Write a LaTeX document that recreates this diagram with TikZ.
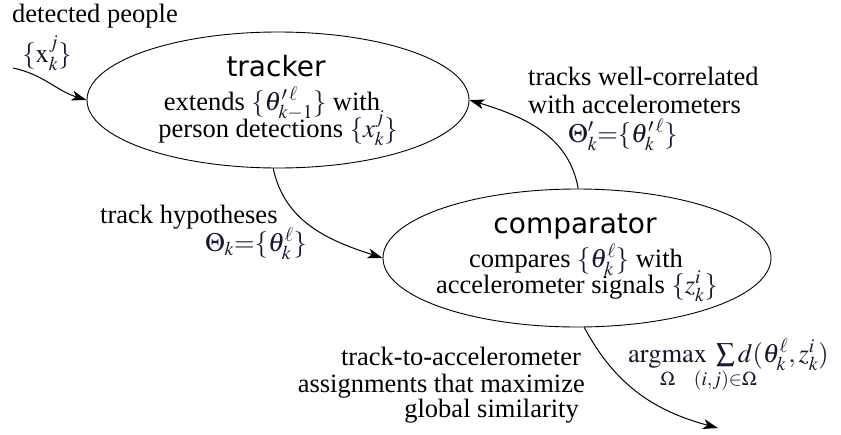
\documentclass[tikz,border=0pt]{standalone}
\usepackage{mathptmx}
\usepackage[no-math]{fontspec}
\setmainfont{Liberation Serif}
\setsansfont{DejaVu Sans}
\usetikzlibrary{shapes.geometric,arrows.meta}
\definecolor{mathc}{RGB}{22,22,48}
\newcommand{\mc}[1]{\textcolor{mathc}{#1}}
\newcommand{\zclap}[1]{\makebox[0pt]{$\scriptstyle #1$}}
\begin{document}
\begin{tikzpicture}[x=1pt,y=1pt,
  ell/.style={draw=black, ellipse, line width=0.9pt, inner sep=0pt},
  txt/.style={inner sep=0pt, font=\fontsize{26.5}{28}\selectfont},
  ttl/.style={inner sep=0pt, font=\sffamily\fontsize{28}{30}\selectfont},
  arr/.style={draw=black, line width=1pt, -{Stealth[length=15pt,width=10pt,inset=4pt]}}]
\useasboundingbox (0,0) rectangle (841,-434);

% ellipses
\node[ell, minimum width=382pt, minimum height=136pt] (tr) at (278,-100) {};
\node[ell, minimum width=388pt, minimum height=138pt] (cmp) at (577,-258) {};

% tracker text
\node[ttl, anchor=base] (trT) at (276,-76) {tracker};
\node[txt, anchor=base] (trL1) at (272,-110) {extends \mc{$\{\theta'^{\,\ell}_{k-1}\}$} with};
\node[txt, anchor=base] (trL2) at (278,-137) {person detections \mc{$\{x^j_k\}$}};

% comparator text
\node[ttl, anchor=base] (cmT) at (575,-233) {comparator};
\node[txt, anchor=base] (cmL1) at (576,-267) {compares \mc{$\{\theta^{\ell}_k\}$} with};
\node[txt, anchor=base] (cmL2) at (577,-293) {accelerometer signals \mc{$\{z^i_k\}$}};

% input
\node[txt, anchor=base west] (inL) at (12,-22) {detected people};
\node[txt, anchor=base] (inM) at (47,-62) {\mc{$\{\mathrm{x}^j_k\}$}};
\coordinate (inS) at (13,-68);
\draw[arr] (inS) to[out=-12, in=163] (tr.west);

% tracker -> comparator
\node[txt, anchor=base west] (hypL) at (100,-223) {track hypotheses};
\node[txt, anchor=base east] (hypM) at (307,-251) {\mc{$\Theta_k{=}\{\theta^{\ell}_k\}$}};
\draw[arr] (tr.266) to[out=-78, in=162] (cmp.west);

% comparator -> tracker
\node[txt, anchor=base west] (fbL1) at (528,-85) {tracks well-correlated};
\node[txt, anchor=base west] (fbL2) at (528,-113) {with accelerometers};
\node[txt, anchor=base west] (fbM) at (568,-142) {\mc{$\Theta'_k{=}\{\theta'^{\,\ell}_k\}$}};
\draw[arr] (cmp.89) to[out=100, in=-17] (tr.east);

% output
\node[txt, anchor=base east] (oL1) at (581,-365) {track-to-accelerometer};
\node[txt, anchor=base east] (oL2) at (585,-392) {assignments that maximize};
\node[txt, anchor=base east] (oL3) at (579,-417) {global similarity};
\node[txt, anchor=base west] (oM) at (628,-362) {\mc{$\mathop{\mathrm{argmax}}\limits_{\Omega}\;\sum\limits_{\zclap{(i,j)\in\Omega}} d(\theta^{\ell}_k, z^i_k)$}};
\coordinate (oE) at (718,-428);
\draw[arr] (cmp.-84) to[out=-62, in=165] (oE);
\end{tikzpicture}
\end{document}
